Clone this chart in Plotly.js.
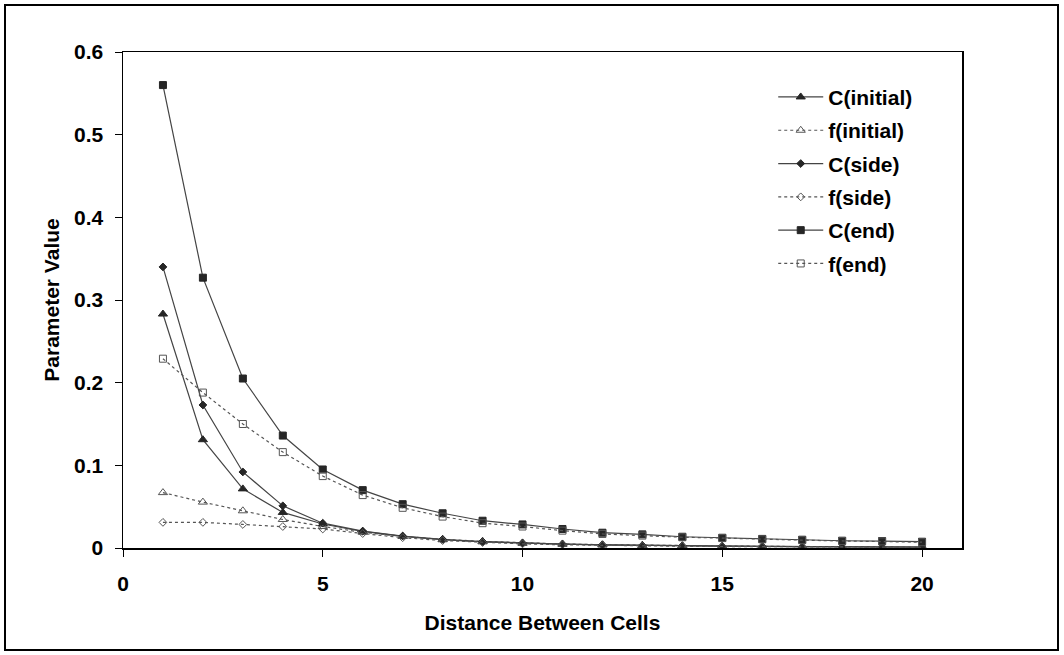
<!DOCTYPE html>
<html>
<head>
<meta charset="utf-8">
<script src="https://cdn.plot.ly/plotly-3.0.1.min.js"></script>
<style>html,body{margin:0;padding:0;background:#fff;}#chart{width:1064px;height:655px;}</style>
</head>
<body>
<div id="chart"></div>
<script>
const distance = [1,2,3,4,5,6,7,8,9,10,11,12,13,14,15,16,17,18,19,20];
const cInitial = [0.283,0.131,0.0715,0.043,0.029,0.020,0.014,0.010,0.0075,0.0058,0.0046,0.0037,0.0031,0.0026,0.0022,0.0019,0.0017,0.0015,0.0013,0.0012];
const fInitial = [0.067,0.0555,0.045,0.0345,0.026,0.019,0.014,0.0105,0.008,0.0062,0.0049,0.004,0.0033,0.0027,0.0023,0.002,0.0017,0.0015,0.0013,0.0011];
const cSide = [0.340,0.173,0.092,0.051,0.030,0.0205,0.0145,0.0105,0.0078,0.006,0.0047,0.0038,0.0031,0.0026,0.0022,0.0019,0.0016,0.0014,0.0012,0.0011];
const fSide = [0.031,0.031,0.0285,0.026,0.023,0.0175,0.0125,0.009,0.0066,0.005,0.0039,0.0031,0.0025,0.0021,0.0018,0.0015,0.0013,0.0011,0.001,0.0009];
const cEnd = [0.560,0.327,0.205,0.136,0.095,0.070,0.053,0.042,0.033,0.0285,0.023,0.0185,0.0165,0.0136,0.0124,0.011,0.010,0.0088,0.0084,0.0076];
const fEnd = [0.229,0.188,0.150,0.116,0.087,0.064,0.0486,0.038,0.030,0.026,0.021,0.017,0.015,0.013,0.012,0.0105,0.0095,0.0085,0.008,0.007];
const seriesNames = ['C(initial)','f(initial)','C(side)','f(side)','C(end)','f(end)'];
const xTickVals = [0,5,10,15,20];
const yTickVals = [0,0.1,0.2,0.3,0.4,0.5,0.6];
const yTickText = ['0','0.1','0.2','0.3','0.4','0.5','0.6'];

const values = [cInitial,fInitial,cSide,fSide,cEnd,fEnd];
const symbols = ['triangle-up','triangle-up-open','diamond','diamond-open','square','square-open'];
const sizes = [8,8,6,6,7,7];
const dashes = ['solid','3px,3px','solid','3px,3px','solid','3px,3px'];

const traces = values.map((v,i)=>({
  x: distance, y: v, name: seriesNames[i], type:'scatter', mode:'lines+markers',
  legendgroup: 'g'+i,
  line:{color: i%2===0 ? '#444444' : '#555555', width: 1.2, dash: dashes[i]},
  marker:{symbol: symbols[i], size: sizes[i], color: i%2===0 ? '#262626' : '#555555',
          line:{color: i%2===0 ? '#262626' : '#555555', width:1}}
}));

const fam = '"Liberation Sans", Arial, sans-serif';
const bold = {family:fam, size:21, color:'#000', weight:'bold'};
const layout = {
  width:1064, height:655,
  margin:{l:123, r:102, t:52, b:107},
  paper_bgcolor:'#fff', plot_bgcolor:'#fff',
  font: {family:fam, size:21, color:'#000'},
  showlegend:true,
  legend:{x:0.775, y:0.95, xanchor:'left', yanchor:'top', bgcolor:'rgba(0,0,0,0)',
          font:bold, tracegroupgap:3, itemwidth:45},
  xaxis:{range:[0,21], tickvals:xTickVals, ticktext:xTickVals.map(String), showgrid:false, zeroline:false,
         showline:true, linecolor:'#000', linewidth:1.5, mirror:true,
         ticks:'outside', ticklen:7, tickcolor:'#000', ticklabelstandoff:9,
         tickfont:bold,
         title:{text:'Distance Between Cells', font:bold, standoff:21}},
  yaxis:{range:[0,0.6], tickvals:yTickVals, ticktext:yTickText, showgrid:false, zeroline:false,
         showline:true, linecolor:'#000', linewidth:1.5, mirror:true,
         ticks:'outside', ticklen:7, tickcolor:'#000', ticklabelstandoff:7,
         tickfont:bold,
         title:{text:'Parameter Value', font:bold, standoff:8}},
  shapes:[{type:'rect', xref:'paper', yref:'paper',
           x0:(5-123)/839, x1:(1058-123)/839, y0:-(650-548)/496, y1:(548-5)/496,
           line:{color:'#000', width:2}, fillcolor:'rgba(0,0,0,0)', layer:'below'}]
};
Plotly.newPlot('chart', traces, layout, {displayModeBar:false, staticPlot:true});
</script>
</body>
</html>
